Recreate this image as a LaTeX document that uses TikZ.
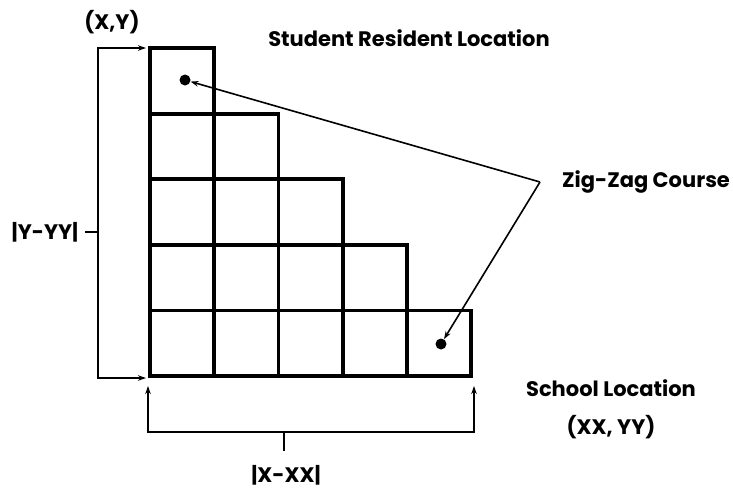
\documentclass[tikz,border=0pt]{standalone}
\usepackage{fontspec}
\setmainfont{Poppins}
\usetikzlibrary{arrows.meta}
\begin{document}
\begin{tikzpicture}[x=1pt,y=-1pt,
  cell/.style={draw,line width=3.8pt,minimum width=64.2pt,minimum height=65.6pt,inner sep=0pt,outer sep=0pt},
  lab/.style={font=\fontsize{21}{24}\selectfont\bfseries,inner sep=0pt},
  thin/.style={line width=1.6pt},
  arr/.style={thin,-{Stealth[length=8pt,width=5.5pt]}},
  dotn/.style={circle,fill,minimum size=11pt,inner sep=0pt}]
\useasboundingbox (0,0) rectangle (733,493);
% grid cells
\foreach \r in {0,...,4}{
  \foreach \c in {0,...,\r}{
    \node[cell] (c\r\c) at ({150+64.2*(\c+0.5)},{48+65.6*(\r+0.5)}) {};
  }
}
% dots
\node[dotn] (dA) at (185,80) {};
\node[dotn] (dB) at (441,344) {};
% labels
\node[lab] (xy) at (112,22) {(X,Y)};
\node[lab] (srl) at (409,38) {Student Resident Location};
\node[lab] (zz) at (646,182) {Zig-Zag Course};
\node[lab] (sl) at (611,388) {School Location};
\node[lab] (xxyy) at (611,427) {(XX, YY)};
\node[lab] (yyy) at (45,232) {|Y-YY|};
\node[lab] (xxx) at (286,475) {|X-XX|};
% zig-zag course
\coordinate (v) at (540,182);
\draw[arr] (v) -- (dA);
\draw[arr] (v) -- (dB);
% left bracket
\coordinate (lt) at (98,48);
\coordinate (lb) at (98,378);
\draw[arr] (lb) -- (lt) -- (146,48);
\draw[arr] (lt) -- (lb) -- (146,378);
\draw[thin] (85,232) -- (98,232);
% bottom bracket
\coordinate (bl) at (148,432);
\coordinate (br) at (474,432);
\draw[arr] (br) -- (bl) -- (148,386);
\draw[arr] (bl) -- (br) -- (474,386);
\draw[thin] (284,432) -- (284,451);
\end{tikzpicture}
\end{document}
